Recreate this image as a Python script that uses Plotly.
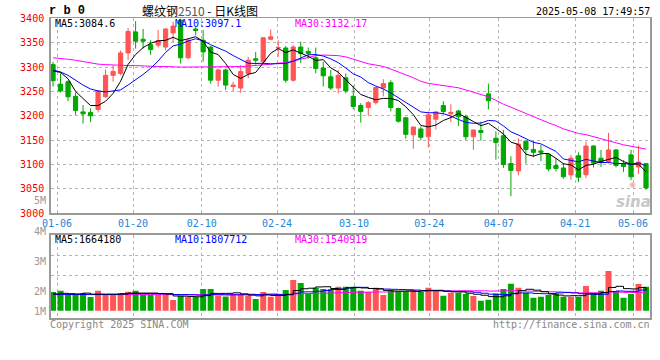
import plotly.graph_objects as go
import pandas as pd

# ---------------- data ----------------
opens = [3305, 3265, 3270, 3240, 3208, 3207, 3213, 3239, 3283, 3287,
         3329, 3372, 3357, 3346, 3345, 3341, 3370, 3396, 3319, 3378,
         3355, 3341, 3273, 3294, 3260, 3257, 3287, 3317, 3311, 3357,
         3339, 3339, 3273, 3341, 3332, 3319, 3298, 3280, 3257, 3278,
         3240, 3221, 3217, 3227, 3257, 3268, 3215, 3196, 3161, 3173,
         3157, 3193, 3221, 3204, 3210, 3198, 3157, 3170, 3245, 3154,
         3159, 3102, 3087, 3148, 3131, 3128, 3121, 3098, 3093, 3079,
         3118, 3079, 3138, 3113, 3106, 3130, 3102, 3120, 3095, 3102]
highs = [3311, 3287, 3273, 3248, 3222, 3215, 3252, 3295, 3304, 3334,
         3380, 3394, 3378, 3355, 3376, 3380, 3393, 3399, 3358, 3382,
         3376, 3343, 3297, 3297, 3270, 3304, 3321, 3331, 3361, 3377,
         3355, 3343, 3345, 3352, 3340, 3340, 3311, 3294, 3294, 3287,
         3262, 3226, 3230, 3260, 3275, 3273, 3217, 3198, 3177, 3178,
         3209, 3209, 3230, 3224, 3212, 3202, 3171, 3188, 3266, 3168,
         3171, 3117, 3154, 3149, 3149, 3140, 3121, 3113, 3103, 3120,
         3125, 3147, 3140, 3130, 3165, 3132, 3109, 3130, 3139, 3102]
lows = [3260, 3248, 3230, 3202, 3184, 3187, 3207, 3237, 3270, 3283,
        3314, 3338, 3338, 3325, 3340, 3334, 3351, 3307, 3316, 3365,
        3311, 3266, 3260, 3253, 3251, 3247, 3277, 3305, 3307, 3355,
        3321, 3268, 3270, 3308, 3317, 3287, 3260, 3253, 3246, 3246,
        3213, 3186, 3200, 3223, 3240, 3209, 3186, 3153, 3132, 3150,
        3135, 3172, 3203, 3187, 3179, 3150, 3130, 3149, 3213, 3110,
        3093, 3035, 3078, 3102, 3115, 3107, 3086, 3086, 3071, 3069,
        3064, 3072, 3094, 3095, 3102, 3094, 3085, 3068, 3081, 3048]
closes = [3272, 3251, 3239, 3211, 3204, 3200, 3251, 3283, 3291, 3329,
          3373, 3353, 3353, 3336, 3354, 3378, 3384, 3319, 3355, 3375,
          3331, 3273, 3294, 3263, 3263, 3291, 3314, 3314, 3360, 3362,
          3340, 3273, 3341, 3328, 3328, 3297, 3282, 3257, 3283, 3251,
          3219, 3209, 3227, 3258, 3266, 3217, 3189, 3162, 3177, 3156,
          3202, 3208, 3209, 3207, 3198, 3157, 3171, 3166, 3231, 3145,
          3100, 3088, 3142, 3131, 3125, 3125, 3091, 3092, 3075, 3113,
          3074, 3138, 3103, 3104, 3130, 3098, 3096, 3075, 3105, 3052]
volumes = [1560000, 1670000, 1310000, 1310000, 1470000, 1140000, 1670000, 1310000, 1310000, 1470000,
           1580000, 1670000, 1310000, 1310000, 1310000, 1310000, 890000, 1250000, 1170000, 1170000,
           1810000, 1810000, 1250000, 1190000, 1390000, 1390000, 1250000, 970000, 1560000, 1170000,
           1390000, 1720000, 2560000, 2310000, 1390000, 1920000, 1810000, 1810000, 2000000, 2000000,
           2000000, 1670000, 1580000, 1920000, 1310000, 1720000, 1640000, 1640000, 1720000, 1580000,
           1920000, 1640000, 1250000, 1500000, 1500000, 1390000, 1220000, 830000, 920000, 1440000,
           1810000, 2250000, 1920000, 1500000, 1080000, 1170000, 1310000, 1440000, 1170000, 1170000,
           1170000, 2050000, 1500000, 1670000, 3300000, 1640000, 1080000, 1390000, 2220000, 2000000]

# moving-average values before enough history is visible
ma5_head = [3292, 3289, 3276, 3250]
ma10_head = [3294, 3290, 3283, 3273, 3263, 3255, 3251, 3249, 3251]
ma30_head = [3319, 3318, 3316, 3314, 3311, 3308, 3306, 3305, 3304, 3304,
             3303, 3303, 3302, 3302, 3301, 3301, 3300, 3300, 3300, 3300,
             3300, 3300, 3300, 3300, 3300, 3301, 3302, 3303, 3304]
vma5_head = [1400000, 1450000, 1420000, 1400000]
vma10_head = [1360000, 1360000, 1350000, 1350000, 1350000, 1350000, 1350000, 1350000, 1350000]
vma30_head = [1340000] * 29

tick_labels = ["01-06", "01-20", "02-10", "02-24", "03-10", "03-24", "04-07", "04-21", "05-06"]
price_ticks = [3000, 3050, 3100, 3150, 3200, 3250, 3300, 3350, 3400]
vol_tick_labels = ["5M", "4M", "3M", "2M", "1M"]

# ---------------- layout constants ----------------
W, H = 660, 360
tick_pos = [0.53, 10.66, 19.81, 29.84, 40.1, 50.13, 59.38, 69.55, 77.27]
vol_label_py = [200, 231, 261, 291, 311]
RED = "#ff5555"
GREEN = "#00a800"
MONO = "DejaVu Sans Mono"
GRID = "#b4b4b4"
FRAME = "#9a9a9a"


def px(x):
    return x / W


def py(y):
    return 1 - y / H


def ma(values, n, head):
    s = pd.Series(values, dtype=float).rolling(n).mean().tolist()
    return list(head) + s[n - 1:]


idx = list(range(len(closes)))
ma5 = ma(closes, 5, ma5_head)
ma10 = ma(closes, 10, ma10_head)
ma30 = ma(closes, 30, ma30_head)
vma5 = ma(volumes, 5, vma5_head)
vma10 = ma(volumes, 10, vma10_head)
vma30 = ma(volumes, 30, vma30_head)
vol_colors = [RED if c >= o else GREEN for o, c in zip(opens, closes)]

fig = go.Figure()
fig.add_trace(go.Candlestick(
    x=idx, open=opens, high=highs, low=lows, close=closes,
    increasing=dict(line=dict(color=RED, width=1), fillcolor=RED),
    decreasing=dict(line=dict(color=GREEN, width=1), fillcolor=GREEN),
    whiskerwidth=0, showlegend=False, hoverinfo="skip",
    xaxis="x", yaxis="y"))
for vals, col in [(ma30, "#ff00ff"), (ma10, "#0000ff"), (ma5, "#000000")]:
    fig.add_trace(go.Scatter(x=idx, y=vals, mode="lines", line=dict(color=col, width=1),
                             showlegend=False, hoverinfo="skip", xaxis="x", yaxis="y"))

fig.add_trace(go.Bar(x=idx, y=volumes, marker=dict(color=vol_colors, line=dict(width=0)),
                     showlegend=False, hoverinfo="skip", xaxis="x2", yaxis="y2"))
for vals, col in [(vma30, "#ff00ff"), (vma10, "#0000ff"), (vma5, "#000000")]:
    fig.add_trace(go.Scatter(x=idx, y=vals, mode="lines", line=dict(color=col, width=1, shape="hv"),
                             showlegend=False, hoverinfo="skip", xaxis="x2", yaxis="y2"))

xdom = [px(50.7), px(650)]
xrange_ = [-0.31, 79.53]
common_x = dict(domain=xdom, range=xrange_, tickvals=tick_pos, showgrid=True, gridcolor=GRID,
                griddash="dot", gridwidth=1, showline=True, mirror=True, linecolor=FRAME,
                linewidth=1.5, zeroline=False, ticks="", fixedrange=True, automargin=False)

fig.update_layout(
    template="none",
    width=W, height=H, margin=dict(l=0, r=0, t=0, b=0, pad=0),
    paper_bgcolor="white", plot_bgcolor="white",
    boxgap=0.2, bargap=0.2, showlegend=False,
    xaxis=dict(**common_x, anchor="y", ticktext=tick_labels,
               tickfont=dict(family=MONO, size=10, color="#1a88d8"),
               rangeslider=dict(visible=False)),
    yaxis=dict(domain=[py(213.3), py(18.3)], range=[3000, 3400], tickvals=price_ticks,
               tickfont=dict(family=MONO, size=10, color="#ee0000"), showgrid=True,
               gridcolor=GRID, griddash="dot", showline=True, mirror=True, linecolor=FRAME,
               linewidth=1.5, zeroline=False, ticks="", anchor="x", ticklabelstandoff=3,
               automargin=False, fixedrange=True),
    xaxis2=dict(**common_x, anchor="y2", showticklabels=False),
    yaxis2=dict(domain=[py(318.3), py(234.7)], range=[-633000, 6333000],
                tickvals=[4640000, 2975000], showticklabels=False, showgrid=True,
                gridcolor=GRID, griddash="dot", showline=True, mirror=True, linecolor=FRAME,
                linewidth=1.5, zeroline=False, ticks="", anchor="x2", automargin=False,
                fixedrange=True),
)

anns = []


def ann(text, x, y, color="#000", size=10, xanchor="left", family=MONO, **kw):
    anns.append(dict(text=text, x=px(x), y=py(y), xref="paper", yref="paper",
                     xanchor=xanchor, yanchor="middle", showarrow=False, borderpad=0,
                     font=dict(family=family, size=size, color=color), **kw))


ann("<b>r b 0</b>", 48, 11, size=12, family="Liberation Mono")
ann('螺纹钢<span style="color:#555">2510</span> - 日K线图', 141, 10.5, size=12,
    family="Noto Sans CJK SC")
ann("2025-05-08 17:49:57", 651, 11, xanchor="right")
ann("MA5:3084.6", 54, 23.5)
ann("MA10:3097.1", 174, 23.5, color="#0000ff")
ann("MA30:3132.17", 294, 23.5, color="#ff00ff")
ann("MA5:1664180", 54, 239)
ann("MA10:1807712", 174, 239, color="#0000ff")
ann("MA30:1540919", 294, 239, color="#ff00ff")
for t, yy in zip(vol_tick_labels, vol_label_py):
    ann(t, 47, yy, color="#999999", xanchor="right")
ann("Copyright 2025 SINA.COM", 49, 324, color="#888888")
ann("http://finance.sina.com.cn", 651, 324, color="#888888", xanchor="right")
ann("◉", 632, 185, color="#f0b4b4", size=8, xanchor="center", family="DejaVu Sans")
ann("<b><i>sina</i></b>", 652, 202, color="#c8c8c8", size=15, xanchor="right",
    family="DejaVu Sans")
fig.update_layout(annotations=anns)

# remove the default 8px page margin so the 660x360 figure fills the window exactly
fig.write_html("out.html", config={"displayModeBar": False, "staticPlot": True},
               post_script="document.body.style.margin='0';document.body.style.overflow='hidden';")
